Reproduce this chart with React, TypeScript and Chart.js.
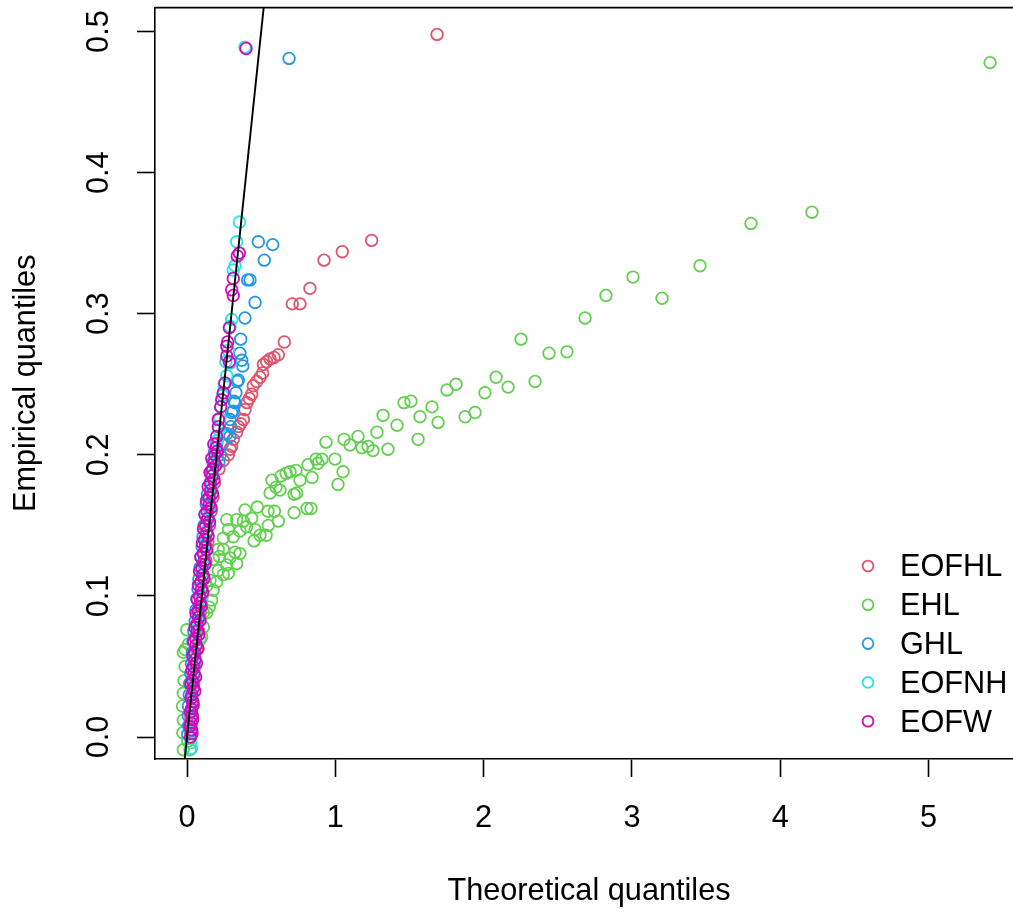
import { useEffect, useRef } from "react";
import { Chart, registerables } from "chart.js";

Chart.register(...registerables);

// ---- series meta ----
const seriesNames = ["EOFHL", "EHL", "GHL", "EOFNH", "EOFW"];
const seriesColors = ["#DF536B", "#61D04F", "#2297E6", "#28E2E5", "#CD0BBC"];

// ---- axis ticks / titles ----
const xTickStep = 1;
const yTickStep = 0.1;
const xTitle = "Theoretical quantiles";
const yTitle = "Empirical quantiles";
const xMin = -0.2158;
const xMax = 5.637;
const yMin = -0.01558;
const yMax = 0.517;

// ---- reference line y = x ----
const refLineX = [-0.1, 0.6];
const refLineY = [-0.1, 0.6];

// ---- EOFHL ----
const eofhlX = [1.686, 1.245, 1.047, 0.924, 0.829, 0.762, 0.710, 0.656, 0.616, 0.587, 0.560, 0.537, 0.515, 0.510, 0.492, 0.470, 0.447, 0.436, 0.420, 0.405, 0.391, 0.380, 0.362, 0.348, 0.335, 0.312, 0.301, 0.290, 0.279, 0.245, 0.215, 0.185, 0.175, 0.163, 0.152, 0.140, 0.128, 0.115, 0.102, 0.090, 0.078, 0.066, 0.055, 0.044, 0.034, 0.026, 0.022];
const eofhlY = [0.498, 0.352, 0.344, 0.338, 0.318, 0.307, 0.307, 0.280, 0.271, 0.269, 0.268, 0.266, 0.264, 0.258, 0.255, 0.252, 0.249, 0.243, 0.240, 0.237, 0.232, 0.225, 0.222, 0.220, 0.216, 0.211, 0.206, 0.204, 0.200, 0.196, 0.190, 0.180, 0.170, 0.160, 0.150, 0.138, 0.125, 0.112, 0.100, 0.088, 0.075, 0.062, 0.050, 0.038, 0.026, 0.014, 0.004];

// ---- EHL ----
const ehlX = [5.415, 4.214, 3.803, 3.459, 3.203, 3.007, 2.825, 2.684, 2.562, 2.441, 2.347, 2.252, 2.165, 2.084, 2.009, 1.942, 1.875, 1.814, 1.753, 1.693, 1.652, 1.571, 1.558, 1.510, 1.463, 1.416, 1.355, 1.322, 1.281, 1.254, 1.221, 1.180, 1.153, 1.099, 1.059, 1.052, 1.018, 0.998, 0.937, 0.910, 0.883, 0.870, 0.843, 0.816, 0.836, 0.809, 0.762, 0.740, 0.735, 0.722, 0.722, 0.695, 0.668, 0.634, 0.600, 0.627, 0.616, 0.589, 0.573, 0.560, 0.546, 0.548, 0.533, 0.492, 0.474, 0.459, 0.452, 0.436, 0.402, 0.391, 0.380, 0.357, 0.357, 0.335, 0.335, 0.324, 0.312, 0.290, 0.279, 0.279, 0.268, 0.268, 0.245, 0.245, 0.245, 0.218, 0.211, 0.211, 0.200, 0.177, 0.177, 0.166, 0.155, 0.150, 0.133, 0.133, 0.110, 0.110, 0.099, 0.099, 0.088, 0.076, 0.065, 0.040, 0.010, -0.002, -0.013, -0.013, -0.025, -0.020, -0.025, -0.030, -0.025, -0.028, -0.025, 0.020, 0.005];
const ehlY = [0.478, 0.372, 0.364, 0.334, 0.311, 0.326, 0.313, 0.297, 0.273, 0.272, 0.252, 0.282, 0.248, 0.255, 0.244, 0.230, 0.227, 0.250, 0.246, 0.223, 0.234, 0.227, 0.211, 0.238, 0.237, 0.221, 0.204, 0.228, 0.216, 0.203, 0.206, 0.205, 0.213, 0.207, 0.211, 0.188, 0.179, 0.197, 0.209, 0.197, 0.194, 0.197, 0.184, 0.193, 0.162, 0.162, 0.182, 0.173, 0.189, 0.172, 0.159, 0.188, 0.187, 0.185, 0.177, 0.175, 0.153, 0.160, 0.182, 0.173, 0.160, 0.150, 0.143, 0.143, 0.163, 0.147, 0.139, 0.155, 0.149, 0.161, 0.153, 0.146, 0.130, 0.123, 0.154, 0.131, 0.142, 0.127, 0.147, 0.116, 0.154, 0.122, 0.141, 0.133, 0.115, 0.128, 0.133, 0.118, 0.110, 0.126, 0.104, 0.097, 0.111, 0.092, 0.107, 0.088, 0.088, 0.078, 0.097, 0.071, 0.069, 0.088, 0.078, 0.060, 0.066, 0.076, 0.062, 0.050, 0.060, 0.040, 0.031, 0.022, 0.012, 0.003, -0.009, -0.009, -0.003];

// ---- GHL ----
const ghlX = [0.688, 0.578, 0.481, 0.521, 0.425, 0.409, 0.459, 0.391, 0.362, 0.357, 0.369, 0.376, 0.346, 0.339, 0.330, 0.324, 0.317, 0.301, 0.312, 0.295, 0.290, 0.290, 0.270, 0.250, 0.240, 0.225, 0.215, 0.200, 0.185, 0.175, 0.165, 0.155, 0.138, 0.130, 0.122, 0.115, 0.108, 0.102, 0.095, 0.088, 0.080, 0.074, 0.066, 0.060, 0.055, 0.046, 0.040, 0.036, 0.030, 0.025, 0.018, 0.015, 0.010, 0.008, 0.010, 0.005];
const ghlY = [0.481, 0.349, 0.351, 0.338, 0.324, 0.324, 0.308, 0.297, 0.282, 0.272, 0.267, 0.263, 0.253, 0.252, 0.244, 0.237, 0.238, 0.230, 0.231, 0.220, 0.225, 0.213, 0.215, 0.215, 0.208, 0.200, 0.195, 0.208, 0.202, 0.195, 0.188, 0.180, 0.172, 0.165, 0.158, 0.150, 0.142, 0.135, 0.128, 0.120, 0.112, 0.105, 0.098, 0.090, 0.082, 0.075, 0.068, 0.060, 0.052, 0.045, 0.038, 0.030, 0.022, 0.015, 0.008, 0.002];

// ---- EOFNH ----
const eofnhX = [0.391, 0.354, 0.335, 0.324, 0.312, 0.301, 0.290, 0.290, 0.268, 0.278, 0.262, 0.250, 0.240, 0.230, 0.222, 0.214, 0.205, 0.194, 0.184, 0.174, 0.165, 0.156, 0.148, 0.140, 0.132, 0.125, 0.118, 0.110, 0.104, 0.096, 0.090, 0.082, 0.075, 0.068, 0.062, 0.055, 0.050, 0.044, 0.040, 0.036, 0.030, 0.032, 0.028, 0.025, 0.030];
const eofnhY = [0.489, 0.365, 0.351, 0.334, 0.331, 0.296, 0.291, 0.265, 0.256, 0.274, 0.266, 0.250, 0.242, 0.234, 0.226, 0.218, 0.210, 0.202, 0.194, 0.186, 0.178, 0.170, 0.162, 0.154, 0.146, 0.138, 0.130, 0.122, 0.114, 0.106, 0.098, 0.090, 0.082, 0.074, 0.066, 0.058, 0.050, 0.042, 0.034, 0.026, 0.018, 0.010, 0.003, -0.004, -0.008];

// ---- EOFW ----
const eofwX = [0.398, 0.353, 0.339, 0.312, 0.301, 0.312, 0.285, 0.274, 0.268, 0.268, 0.285, 0.256, 0.245, 0.234, 0.227, 0.211, 0.211, 0.200, 0.196, 0.188, 0.184, 0.172, 0.170, 0.158, 0.160, 0.148, 0.150, 0.136, 0.140, 0.126, 0.134, 0.118, 0.124, 0.110, 0.116, 0.100, 0.108, 0.094, 0.098, 0.084, 0.090, 0.076, 0.080, 0.066, 0.070, 0.058, 0.062, 0.050, 0.054, 0.042, 0.048, 0.036, 0.044, 0.032, 0.040, 0.030, 0.036, 0.026, 0.032, 0.024,
  0.034, 0.020, 0.038, 0.024, 0.042, 0.028, 0.052, 0.027, 0.058, 0.033, 0.064, 0.039, 0.074, 0.045, 0.080, 0.053, 0.088, 0.061, 0.096, 0.069, 0.106, 0.077, 0.114, 0.085, 0.122, 0.093, 0.132, 0.103, 0.142, 0.111, 0.152, 0.121, 0.162, 0.131, 0.172, 0.143, 0.182, 0.155, 0.194, 0.167, 0.204, 0.181];
const eofwY = [0.488, 0.343, 0.341, 0.325, 0.317, 0.313, 0.290, 0.280, 0.277, 0.270, 0.266, 0.251, 0.244, 0.239, 0.234, 0.225, 0.220, 0.213, 0.205, 0.200, 0.195, 0.190, 0.185, 0.180, 0.175, 0.170, 0.165, 0.160, 0.155, 0.150, 0.145, 0.140, 0.135, 0.130, 0.125, 0.120, 0.115, 0.110, 0.105, 0.100, 0.095, 0.090, 0.085, 0.080, 0.075, 0.070, 0.065, 0.060, 0.055, 0.050, 0.045, 0.040, 0.035, 0.030, 0.025, 0.020, 0.015, 0.010, 0.005, 0.000,
  0.0025, 0.0075, 0.0125, 0.0175, 0.0225, 0.0275, 0.0325, 0.0375, 0.0425, 0.0475, 0.0525, 0.0575, 0.0625, 0.0675, 0.0725, 0.0775, 0.0825, 0.0875, 0.0925, 0.0975, 0.1025, 0.1075, 0.1125, 0.1175, 0.1225, 0.1275, 0.1325, 0.1375, 0.1425, 0.1475, 0.1525, 0.1575, 0.1625, 0.1675, 0.1725, 0.1775, 0.1825, 0.1875, 0.1925, 0.1975, 0.2025, 0.2075];

const seriesX = [eofhlX, ehlX, ghlX, eofnhX, eofwX];
const seriesY = [eofhlY, ehlY, ghlY, eofnhY, eofwY];

// ---- styling ----
const FONT = "'Liberation Sans', Arial, Helvetica, sans-serif";
const FONT_SIZE = 30.7;
const AXIS_W = 1.6;
const CANVAS_W = 1040;
const CANVAS_H = 914;

const toPoints = (xs: number[], ys: number[]) => xs.map((x, i) => ({ x, y: ys[i] }));

const rPlotPlugin = {
  id: "rPlot",
  afterDraw(chart: any) {
    const { ctx, chartArea } = chart;
    const yScale = chart.scales.y;
    ctx.save();
    ctx.strokeStyle = "#000";
    ctx.lineWidth = AXIS_W;
    ctx.beginPath();
    ctx.moveTo(chartArea.left, chartArea.top);
    ctx.lineTo(chartArea.right, chartArea.top);
    ctx.lineTo(chartArea.right, chartArea.bottom);
    ctx.stroke();

    // y tick labels (rotated, as in R's las = 0)
    ctx.fillStyle = "#000";
    ctx.font = `${FONT_SIZE}px ${FONT}`;
    ctx.textAlign = "center";
    ctx.textBaseline = "middle";
    yScale.ticks.forEach((t: any) => {
      const py = yScale.getPixelForValue(t.value);
      ctx.save();
      ctx.translate(chartArea.left - 55, py);
      ctx.rotate(-Math.PI / 2);
      ctx.fillText(Number(t.value).toFixed(1), 0, 0);
      ctx.restore();
    });

    // legend (no box)
    const legendCircleX = 868;
    const legendTextX = 900;
    const legendTop = 566;
    const legendStep = 38.8;
    let row = 0;
    chart.data.datasets.forEach((ds: any) => {
      if (!ds.inLegend) return;
      const cy = legendTop + row * legendStep;
      ctx.strokeStyle = ds.borderColor;
      ctx.lineWidth = 1.8;
      ctx.beginPath();
      ctx.arc(legendCircleX, cy, 5.4, 0, Math.PI * 2);
      ctx.stroke();
      ctx.fillStyle = "#000";
      ctx.textAlign = "left";
      ctx.textBaseline = "middle";
      ctx.fillText(ds.label, legendTextX, cy + 2);
      row++;
    });
    ctx.restore();
  },
};

export default function App() {
  const canvasRef = useRef<HTMLCanvasElement | null>(null);

  useEffect(() => {
    if (!canvasRef.current) return;
    Chart.defaults.font.family = FONT;
    Chart.defaults.color = "#000";

    const pointSets = seriesNames.map((name, i) => ({
      type: "scatter" as const,
      label: name,
      inLegend: true,
      data: toPoints(seriesX[i], seriesY[i]),
      borderColor: seriesColors[i],
      backgroundColor: "rgba(0,0,0,0)",
      pointRadius: 5.8,
      pointBorderWidth: 1.8,
      pointStyle: "circle",
      clip: 0,
      order: 10 - i,
    }));

    const chart = new Chart(canvasRef.current, {
      type: "scatter",
      data: {
        datasets: [
          ...pointSets,
          {
            type: "line" as const,
            label: "y = x",
            inLegend: false,
            data: toPoints(refLineX, refLineY),
            borderColor: "#000",
            borderWidth: 1.9,
            pointRadius: 0,
            showLine: true,
            fill: false,
            clip: 0,
            order: 0,
          } as any,
        ],
      },
      options: {
        responsive: false,
        animation: false,
        devicePixelRatio: 1,
        events: [],
        layout: { padding: { top: 7, right: CANVAS_W - 1023, left: 0, bottom: 0 } },
        plugins: { legend: { display: false }, tooltip: { enabled: false } },
        scales: {
          x: {
            type: "linear",
            min: xMin,
            max: xMax,
            afterFit: (s: any) => {
              s.height = CANVAS_H - 759;
            },
            border: { display: true, color: "#000", width: AXIS_W },
            grid: {
              drawOnChartArea: false,
              drawTicks: true,
              tickLength: 18,
              tickWidth: AXIS_W,
              tickColor: "#000",
            },
            ticks: {
              stepSize: xTickStep,
              includeBounds: false,
              padding: 23,
              maxRotation: 0,
              autoSkip: false,
              color: "#000",
              font: { size: FONT_SIZE, family: FONT },
              callback: (v: any) => String(v),
            },
            title: {
              display: true,
              text: xTitle,
              color: "#000",
              font: { size: FONT_SIZE, family: FONT },
              padding: { top: 0, bottom: 4 },
            },
          },
          y: {
            type: "linear",
            min: yMin,
            max: yMax,
            afterFit: (s: any) => {
              s.width = 155;
            },
            border: { display: true, color: "#000", width: AXIS_W },
            grid: {
              drawOnChartArea: false,
              drawTicks: true,
              tickLength: 18,
              tickWidth: AXIS_W,
              tickColor: "#000",
            },
            ticks: {
              stepSize: yTickStep,
              includeBounds: false,
              display: false,
            },
            title: {
              display: true,
              text: yTitle,
              color: "#000",
              font: { size: FONT_SIZE, family: FONT },
              padding: { top: 8, bottom: 0 },
            },
          },
        },
      } as any,
      plugins: [rPlotPlugin],
    });

    return () => chart.destroy();
  }, []);

  return (
    <div
      style={{
        position: "absolute",
        left: 0,
        top: 0,
        width: 1013,
        height: 914,
        overflow: "hidden",
        background: "#fff",
      }}
    >
      <canvas
        ref={canvasRef}
        width={CANVAS_W}
        height={CANVAS_H}
        style={{ display: "block", width: CANVAS_W, height: CANVAS_H }}
      />
    </div>
  );
}
